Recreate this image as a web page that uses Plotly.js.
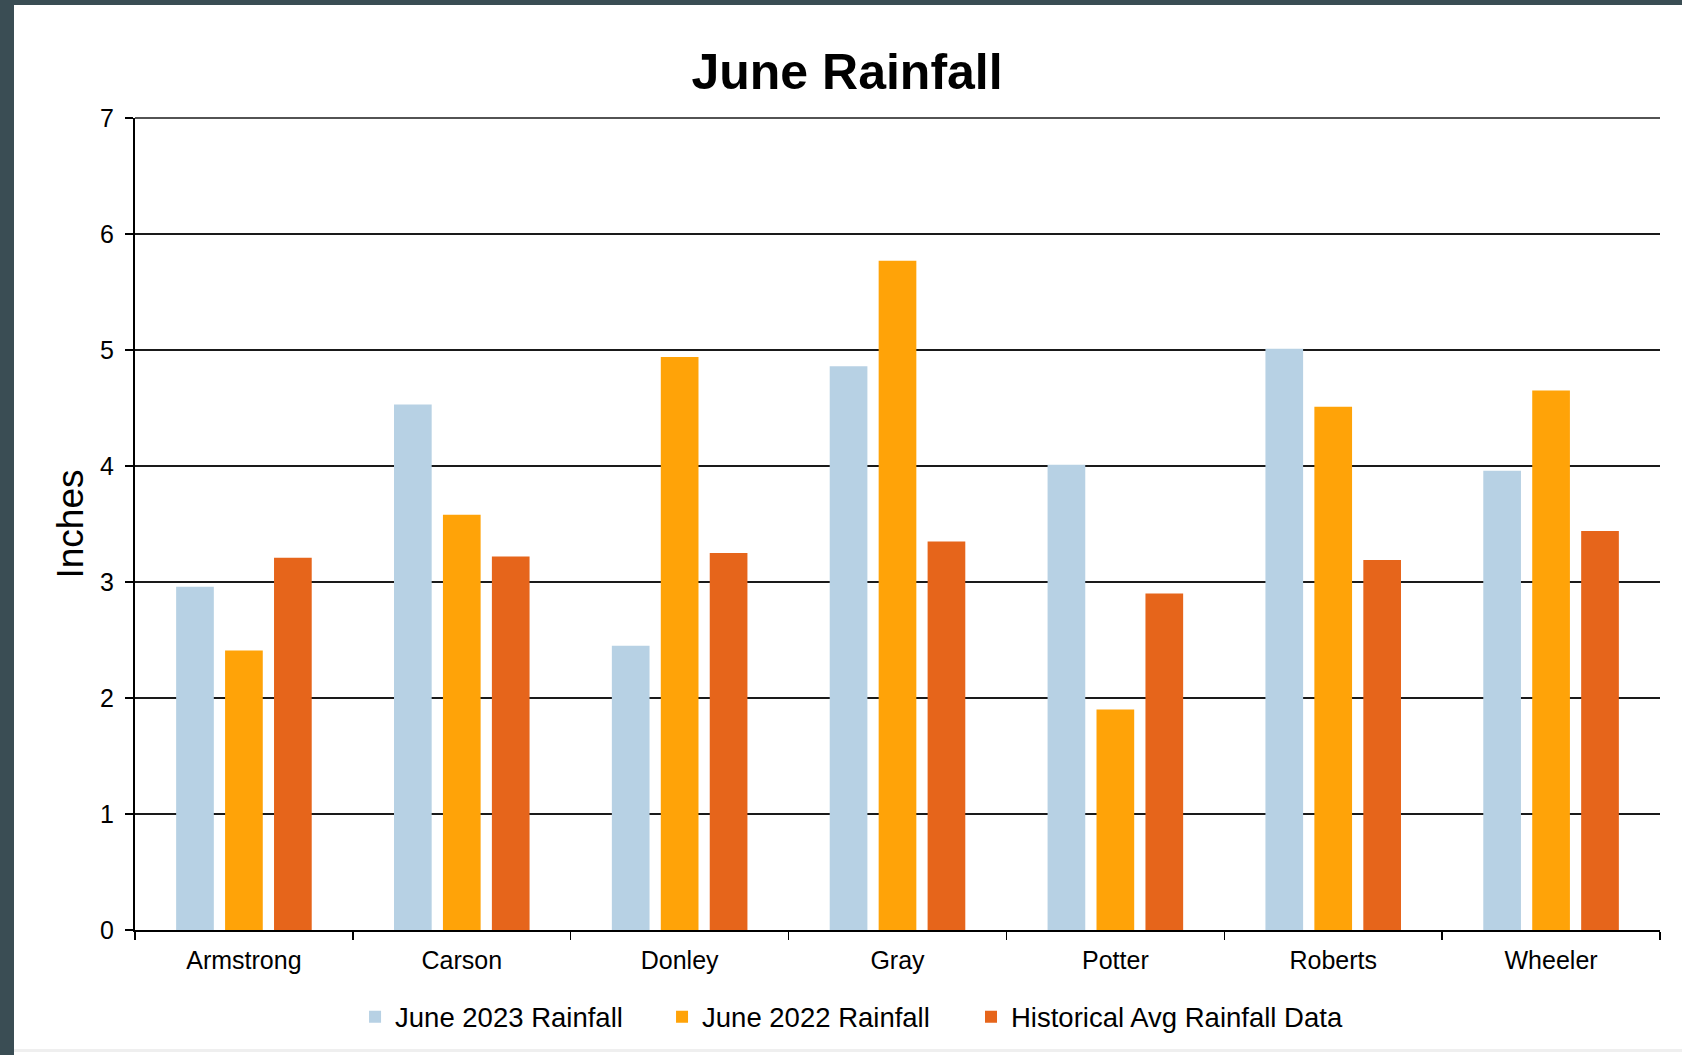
<!DOCTYPE html>
<html>
<head>
<meta charset="utf-8">
<script src="https://cdn.plot.ly/plotly-3.0.1.min.js"></script>
<style>
  html, body { margin: 0; padding: 0; background: #ffffff; }
  #chart { position: absolute; left: 0; top: 0; width: 1682px; height: 1055px; }
  .edge { position: absolute; background: #3a4d54; }
</style>
</head>
<body>
<div id="chart"></div>
<div class="edge" style="left:0;top:0;width:14px;height:1055px;"></div>
<div class="edge" style="left:0;top:0;width:1682px;height:5px;"></div>
<div style="position:absolute;left:14px;top:1049px;width:1668px;height:3px;background:#efefef;"></div>
<script>
const counties = ["Armstrong", "Carson", "Donley", "Gray", "Potter", "Roberts", "Wheeler"];
const june2023 = [2.96, 4.53, 2.45, 4.86, 4.01, 5.01, 3.96];
const june2022 = [2.41, 3.58, 4.94, 5.77, 1.90, 4.51, 4.65];
const historical = [3.21, 3.22, 3.25, 3.35, 2.90, 3.19, 3.44];
const seriesNames = ["June 2023 Rainfall", "June 2022 Rainfall", "Historical Avg Rainfall Data"];
const yTicks = [0, 1, 2, 3, 4, 5, 6, 7];

const colors = ["#b7d1e4", "#ffa308", "#e6651b"];
const font = "Liberation Sans, Arial, sans-serif";
const legendIds = ["legend", "legend2", "legend3"];
const legendX = [0.1443, 0.3456, 0.5482];

const traces = [june2023, june2022, historical].map((vals, i) => ({
  type: "bar",
  name: seriesNames[i],
  x: counties,
  y: vals,
  legend: legendIds[i],
  marker: { color: colors[i], line: { width: 0 } },
  hoverinfo: "x+y+name"
}));

const layout = {
  width: 1682,
  height: 1055,
  paper_bgcolor: "#ffffff",
  plot_bgcolor: "#ffffff",
  margin: { l: 135, r: 22, t: 118, b: 125, pad: 0 },
  font: { family: font, color: "#000000" },
  title: {
    text: "<b>June Rainfall</b>",
    font: { family: font, size: 50, color: "#000000" },
    xref: "container", x: 0.5036, xanchor: "center",
    yref: "container", y: 0.9327, yanchor: "middle"
  },
  barmode: "group",
  bargap: 0.326,
  bargroupgap: 0.23,
  showlegend: true,
  xaxis: {
    type: "category",
    tickson: "boundaries",
    ticks: "outside",
    ticklen: 8,
    tickwidth: 1.5,
    tickcolor: "#000000",
    showline: true,
    linecolor: "#000000",
    linewidth: 2,
    showgrid: false,
    zeroline: false,
    tickfont: { family: font, size: 25, color: "#000000" },
    ticklabelstandoff: 7,
    fixedrange: true
  },
  yaxis: {
    range: [0, 7],
    tickvals: yTicks,
    ticktext: yTicks.map(String),
    ticks: "outside",
    ticklen: 8,
    tickwidth: 1.5,
    tickcolor: "#000000",
    showline: true,
    linecolor: "#000000",
    linewidth: 2,
    showgrid: true,
    gridcolor: "#1a1a1a",
    gridwidth: 1.6,
    zeroline: false,
    tickfont: { family: font, size: 25, color: "#000000" },
    ticklabelstandoff: 6,
    title: {
      text: "Inches",
      font: { family: font, size: 37, color: "#000000" },
      standoff: 5
    },
    fixedrange: true
  },
  shapes: [{
    type: "line", xref: "paper", yref: "paper",
    x0: 0, x1: 1, y0: 1, y1: 1,
    line: { color: "#1a1a1a", width: 1.6 }, layer: "above"
  }]
};

legendIds.forEach((id, i) => {
  layout[id] = {
    orientation: "h",
    x: legendX[i], xanchor: "left",
    y: -0.107, yanchor: "middle",
    font: { family: font, size: 27.5, color: "#000000" },
    itemwidth: 30,
    bgcolor: "rgba(0,0,0,0)"
  };
});

Plotly.newPlot("chart", traces, layout, { displayModeBar: false, staticPlot: true });
</script>
</body>
</html>
